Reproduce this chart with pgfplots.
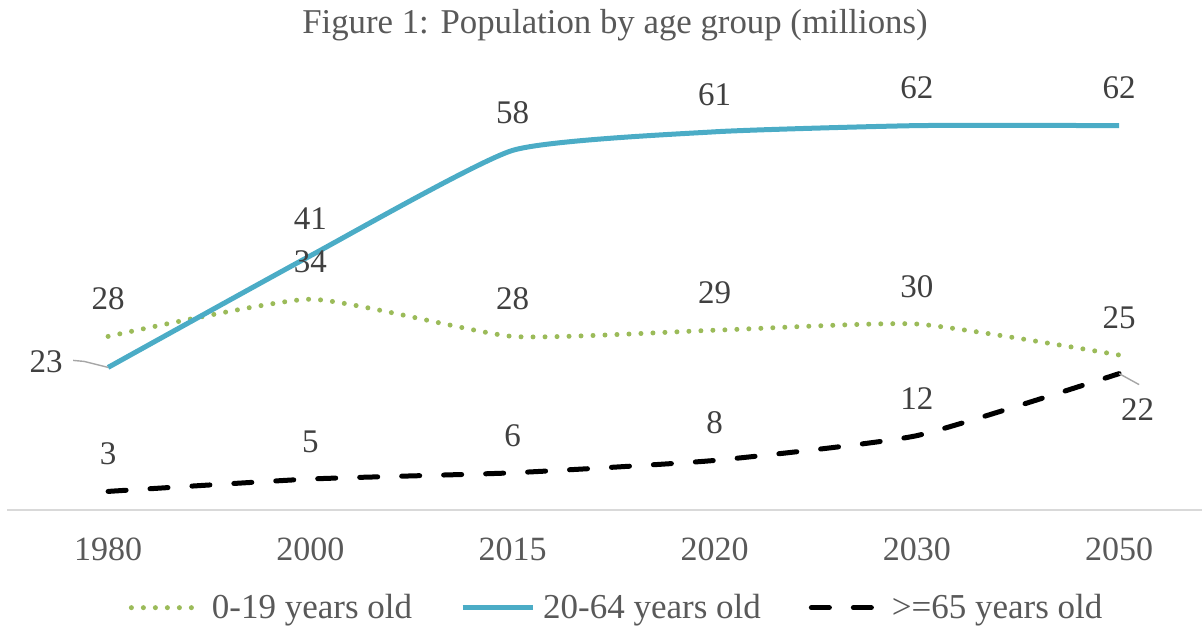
\documentclass[border=0pt]{standalone}
\usepackage{pgfplots}
\pgfplotsset{compat=1.18}
\usepackage{fontspec}
\setmainfont{Liberation Serif}
\definecolor{cblue}{HTML}{4BACC6}
\definecolor{cgreen}{HTML}{9BBB59}
\definecolor{tgray}{HTML}{595959}
\definecolor{lgray}{HTML}{404040}
\definecolor{agray}{HTML}{D9D9D9}
\definecolor{leader}{HTML}{A6A6A6}
\newcommand{\lblfont}{\fontsize{16.5}{18}\selectfont}
\begin{document}
\begin{tikzpicture}
\useasboundingbox (-3.5pt,-59.5pt) rectangle (597.5pt,255pt);
\begin{axis}[at={(0,0)}, anchor=south west, scale only axis,
  width=597.5pt, height=217pt,
  xmin=-0.5, xmax=5.41, ymin=0, ymax=70,
  axis y line=none, axis x line*=bottom,
  x axis line style={draw=agray, line width=1pt, -},
  xtick={0,...,5}, xticklabels={1980,2000,2015,2020,2030,2050},
  major tick length=0pt,
  xticklabel style={font=\fontsize{17}{19}\selectfont, text=tgray, anchor=base, yshift=-25pt, inner sep=0pt},
  /pgf/number format/assume math mode=true,
  every node near coord/.style={font=\lblfont, text=lgray, inner sep=0pt, anchor=south, yshift=13pt},
  clip=false,
  legend columns=3,
  legend style={at={(0.511,-0.225)}, anchor=center, draw=none, font=\fontsize{17.5}{19}\selectfont, text=tgray,
    /tikz/every odd column/.append style={column sep=2pt},
    /tikz/every even column/.append style={column sep=22pt}},
  legend image code/.code={\draw[#1] (0pt,0pt) -- (35pt,0pt);},
]
\addplot[cgreen, line width=2.5pt, line cap=round, dash pattern=on 0pt off 6pt, smooth, tension=0.3]
  coordinates {(0,28) (1,34) (2,28) (3,29) (4,30) (5,25)};
\addlegendentry{0-19 years old}
\addplot[cblue, line width=2.5pt, smooth, tension=0.3]
  coordinates {(0,23) (1,41) (2,58) (3,61) (4,62) (5,62)};
\addlegendentry{20-64 years old}
\addplot[black, line width=2.5pt, line cap=round, dash pattern=on 9pt off 12pt, smooth, tension=0.3]
  coordinates {(0,3) (1,5) (2,6) (3,8) (4,12) (5,22)};
\addlegendentry{>=65 years old}
% data labels
\addplot[draw=none, forget plot, nodes near coords]
  coordinates {(0,28) (1,34) (2,28) (3,29) (4,30) (5,25)};
\addplot[draw=none, forget plot, nodes near coords]
  coordinates {(1,41) (2,58) (3,61) (4,62) (5,62)};
\addplot[draw=none, forget plot, nodes near coords,
  every node near coord/.append style={anchor=east, xshift=-22.5pt, yshift=-10.25pt}]
  coordinates {(0,23)};
\addplot[draw=none, forget plot, nodes near coords]
  coordinates {(0,3) (1,5) (2,6) (3,8) (4,12)};
\addplot[draw=none, forget plot, nodes near coords,
  every node near coord/.append style={anchor=north, xshift=9.25pt, yshift=-25.5pt}]
  coordinates {(5,22)};
\draw[leader, line width=0.7pt] (axis cs:0,23) -- ++(-12pt,3pt) -- ++(-5.5pt,0.5pt);
\draw[leader, line width=0.7pt] (axis cs:5,22) -- ++(10pt,-5.5pt);
\end{axis}
\node[anchor=base, font=\fontsize{17.4}{20}\selectfont, text=tgray] at (304pt,238.5pt)
  {Figure 1: Population by age group (millions)};
\end{tikzpicture}
\end{document}
